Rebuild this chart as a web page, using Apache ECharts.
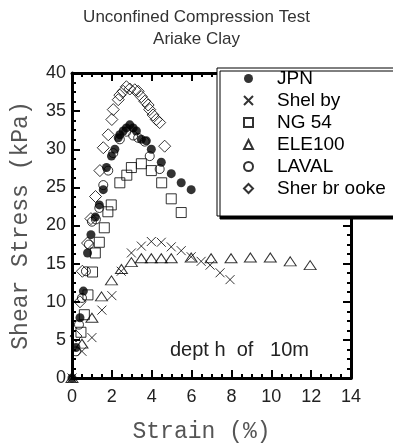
<!DOCTYPE html>
<html>
<head>
<meta charset="utf-8">
<script src="https://cdn.jsdelivr.net/npm/echarts@6/dist/echarts.min.js"></script>
<style>
  html, body { margin: 0; padding: 0; background: #fff; }
  #chart { width: 393px; height: 448px; }
</style>
</head>
<body>
<div id="chart"></div>
<script>
// strain (%) / shear stress (kPa)
const jpn = [[0,0],[0.2,4.0],[0.4,7.9],[0.57,11.4],[0.78,16.4],[0.95,18.8],[1.17,21.1],[1.37,22.7],[1.57,24.7],[1.73,27.6],[1.98,29.1],[2.15,30.0],[2.32,31.5],[2.4,31.9],[2.57,32.4],[2.73,32.8],[2.9,33.2],[3.07,32.8],[3.23,32.4],[3.48,31.3],[3.73,31.1],[3.98,30.0],[4.48,28.3],[4.98,26.8],[5.48,25.6],[5.98,24.7]]
const shelby = [[0,0],[0.5,3.5],[1.0,5.3],[1.5,8.9],[2.0,10.8],[2.47,14.0],[2.98,16.4],[3.48,17.3],[3.98,17.9],[4.48,17.8],[4.98,17.2],[5.48,16.7],[5.98,15.9],[6.48,15.3],[6.93,14.8],[7.43,13.8],[7.93,12.9]]
const ng54 = [[0.45,6.0],[0.62,8.3],[0.8,10.9],[1.03,13.9],[1.17,16.4],[1.37,17.8],[1.62,19.7],[1.8,21.8],[1.97,22.7],[2.4,25.6],[2.75,26.6],[2.98,27.6],[3.48,28.1],[3.98,27.2],[4.5,25.6],[4.98,23.5],[5.48,21.7]]
const ele100 = [[0,0],[0.5,4.5],[1.0,7.9],[1.48,10.7],[1.98,12.8],[2.48,14.3],[2.98,15.2],[3.48,15.7],[3.98,15.7],[4.48,15.7],[4.98,15.7],[5.98,15.8],[6.98,15.7],[7.98,15.7],[8.95,15.8],[9.95,15.8],[10.95,15.3],[11.95,14.8]]
const laval = [[0.2,3.5],[0.35,7.0],[0.5,10.5],[0.7,14.0],[0.85,17.5],[1.0,20.5],[1.2,20.8],[1.37,22.3],[1.57,25.3],[1.82,27.2],[2.07,29.5],[2.4,31.3],[2.73,32.3],[3.07,31.8],[3.32,31.5],[3.65,31.0],[3.9,29.1],[4.4,27.4]]
const sherbrooke = [[0.2,5.5],[0.4,10.0],[0.52,14.0],[0.78,17.7],[0.95,20.9],[1.18,23.8],[1.4,27.2],[1.57,30.2],[1.82,31.9],[2.0,33.9],[2.07,35.2],[2.32,36.5],[2.4,37.1],[2.57,37.6],[2.73,38.2],[2.9,37.9],[3.15,37.8],[3.32,37.6],[3.48,36.9],[3.65,36.3],[3.82,35.8],[3.9,35.2],[4.07,34.5],[4.23,33.9],[4.4,33.5],[4.65,30.4]]

const crossPath = 'path://M0,0L10,10M10,0L0,10'
const open = { color: 'rgba(0,0,0,0)', borderColor: '#000', borderWidth: 1 }

const chart = echarts.init(document.getElementById('chart'))

const axisCommon = {
  axisLine: { show: true, onZero: false, lineStyle: { color: '#000', width: 3 } },
  axisTick: { show: true, inside: true, length: 8, lineStyle: { color: '#000', width: 2 } },
  minorTick: { show: true, splitNumber: 4, length: 4, lineStyle: { color: '#000', width: 2 } },
  splitLine: { show: false }
}

const option = {
  animation: false,
  title: {
    text: 'Unconfined Compression Test\nAriake Clay',
    left: 'center',
    top: 1,
    padding: [5, 5, 5, 13],
    textStyle: { fontFamily: 'Liberation Sans', fontSize: 17, fontWeight: 'normal', color: '#333', lineHeight: 22 }
  },
  grid: { left: 72, right: 42, top: 73, bottom: 67 },
  legend: {
    orient: 'vertical',
    left: 217,
    top: 68,
    padding: [1, 40, 18, 26],
    itemGap: 3,
    itemWidth: 9,
    itemHeight: 9,
    backgroundColor: '#fff',
    borderColor: '#000',
    borderWidth: 1,
    borderRadius: 0,
    shadowColor: '#000',
    shadowOffsetX: 3,
    shadowOffsetY: 3,
    shadowBlur: 0,
    textStyle: { fontFamily: 'Liberation Sans', fontSize: 19, color: '#000', lineHeight: 19, padding: [0, 0, 0, 19] },
    data: ['JPN', 'Shel by', 'NG 54', 'ELE100', 'LAVAL', 'Sher br ooke']
  },
  xAxis: [
    Object.assign({}, axisCommon, {
      type: 'value', min: 0, max: 14, interval: 2,
      name: 'Strain (%)', nameLocation: 'middle', nameGap: 42,
      nameTextStyle: { fontFamily: 'Liberation Mono', fontSize: 23, color: '#555', padding: [0, 20, 0, 0] },
      axisLabel: { fontFamily: 'Liberation Sans', fontSize: 18, color: '#222', margin: 10 }
    }),
    Object.assign({}, axisCommon, {
      type: 'value', min: 0, max: 14, interval: 2, position: 'top',
      axisLabel: { show: false }
    })
  ],
  yAxis: [
    Object.assign({}, axisCommon, {
      type: 'value', min: 0, max: 40, interval: 5,
      name: 'Shear Stress (kPa)', nameLocation: 'middle', nameGap: 40,
      nameTextStyle: { fontFamily: 'Liberation Mono', fontSize: 23, color: '#555' },
      axisLabel: { fontFamily: 'Liberation Sans', fontSize: 18, color: '#222', margin: 6 }
    }),
    Object.assign({}, axisCommon, {
      type: 'value', min: 0, max: 40, interval: 5, position: 'right',
      axisLabel: { show: false }
    })
  ],
  graphic: [{
    type: 'text',
    left: 170,
    top: 340,
    style: { text: 'dept h  of   10m', fontFamily: 'Liberation Sans', fontSize: 20, fill: '#222' }
  }],
  series: [
    {
      name: 'Sher br ooke', type: 'scatter', data: sherbrooke, clip: false,
      symbol: 'diamond', symbolSize: [12, 12], itemStyle: open
    },
    {
      name: 'LAVAL', type: 'scatter', data: laval, clip: false,
      symbol: 'circle', symbolSize: 9, itemStyle: open
    },
    {
      name: 'NG 54', type: 'scatter', data: ng54, clip: false,
      symbol: 'rect', symbolSize: 10, itemStyle: open
    },
    {
      name: 'ELE100', type: 'scatter', data: ele100, clip: false,
      symbol: 'triangle', symbolSize: [12, 9], itemStyle: open
    },
    {
      name: 'Shel by', type: 'scatter', data: shelby, clip: false,
      symbol: crossPath, symbolSize: 9, itemStyle: open
    },
    {
      name: 'JPN', type: 'scatter', data: jpn, clip: false,
      symbol: 'circle', symbolSize: 9, itemStyle: { color: '#000' }
    }
  ]
}

chart.setOption(option)
</script>
</body>
</html>
